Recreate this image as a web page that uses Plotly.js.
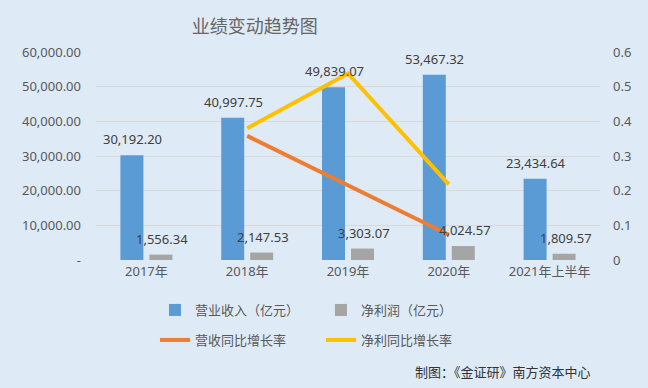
<!DOCTYPE html>
<html>
<head>
<meta charset="utf-8">
<script src="https://cdn.plot.ly/plotly-3.0.1.min.js"></script>
<style>html,body{margin:0;padding:0;background:#DEEAF6;}#chart{width:648px;height:388px;}</style>
</head>
<body>
<div id="chart"></div>
<script>
const categories = ['2017年', '2018年', '2019年', '2020年', '2021年上半年'];
const revenue = [30192.20, 40997.75, 49839.07, 53467.32, 23434.64];
const netProfit = [1556.34, 2147.53, 3303.07, 4024.57, 1809.57];
const growthCats = ['2018年', '2019年', '2020年'];
const revenueGrowth = [0.358, 0.2157, 0.0728];
const profitGrowth = [0.380, 0.538, 0.218];
const leftTickVals = [0, 10000, 20000, 30000, 40000, 50000, 60000];
const leftTickText = ['-', '10,000.00', '20,000.00', '30,000.00', '40,000.00', '50,000.00', '60,000.00'];
const rightTickVals = [0, 0.1, 0.2, 0.3, 0.4, 0.5, 0.6];
const rightTickText = ['0', '0.1', '0.2', '0.3', '0.4', '0.5', '0.6'];

const FONT = 'Noto Sans, Noto Sans CJK SC, sans-serif';
const fmt = v => v.toLocaleString('en-US', {minimumFractionDigits: 2, maximumFractionDigits: 2});

const traces = [
  {type: 'bar', name: '营业收入（亿元）', x: categories, y: revenue, marker: {color: '#5B9BD5'}, legend: 'legend', hoverinfo: 'none'},
  {type: 'bar', name: '净利润（亿元）', x: categories, y: netProfit, marker: {color: '#A5A5A5'}, legend: 'legend', hoverinfo: 'none'},
  {type: 'scatter', mode: 'lines', name: '营收同比增长率', x: growthCats, y: revenueGrowth, yaxis: 'y2', line: {color: '#ED7D31', width: 4}, legend: 'legend2', hoverinfo: 'none'},
  {type: 'scatter', mode: 'lines', name: '净利同比增长率', x: growthCats, y: profitGrowth, yaxis: 'y2', line: {color: '#FFC000', width: 4}, legend: 'legend2', hoverinfo: 'none'}
];

const annotations = [];
categories.forEach((c, i) => {
  annotations.push({x: c, y: revenue[i], xref: 'x', yref: 'y', text: fmt(revenue[i]), showarrow: false, xshift: -14, yshift: 16, yanchor: 'middle', font: {family: FONT, size: 13, color: '#404040'}});
  annotations.push({x: c, y: netProfit[i], xref: 'x', yref: 'y', text: fmt(netProfit[i]), showarrow: false, xshift: 16, yshift: 16, yanchor: 'middle', font: {family: FONT, size: 13, color: '#404040'}});
});
annotations.push({xref: 'paper', yref: 'paper', x: 0.986, y: -0.538, xanchor: 'right', yanchor: 'middle', text: '制图：《金证研》南方资本中心', showarrow: false, font: {family: FONT, size: 13, color: '#333333'}});

const layout = {
  width: 648, height: 388,
  margin: {l: 96, r: 48, t: 52, b: 128},
  paper_bgcolor: '#DEEAF6', plot_bgcolor: '#DEEAF6',
  font: {family: FONT, size: 13, color: '#595959'},
  title: {text: '业绩变动趋势图', x: 0.393, xref: 'container', xanchor: 'center', y: 0.930, yref: 'container', yanchor: 'middle', font: {family: FONT, size: 18, color: '#666666'}},
  barmode: 'group', bargap: 0.425, bargroupgap: 0.207,
  showlegend: true,
  xaxis: {type: 'category', showgrid: false, zeroline: false, showline: false, ticks: '', tickfont: {family: FONT, size: 13, color: '#595959'}, ticklabelstandoff: 2},
  yaxis: {range: [0, 60000], tickvals: leftTickVals, ticktext: leftTickText, showgrid: true, gridcolor: '#D9D9D9', gridwidth: 1, zeroline: false, showline: false, ticks: '', ticklabelstandoff: 14, tickfont: {family: FONT, size: 13, color: '#595959'}},
  yaxis2: {range: [0, 0.6], overlaying: 'y', side: 'right', tickvals: rightTickVals, ticktext: rightTickText, showgrid: false, zeroline: false, showline: false, ticks: '', ticklabelstandoff: 12, tickfont: {family: FONT, size: 13, color: '#595959'}},
  legend: {orientation: 'h', x: 0.117, xanchor: 'left', y: -0.2404, yanchor: 'middle', bgcolor: 'rgba(0,0,0,0)', entrywidth: 121, entrywidthmode: 'pixels', font: {family: FONT, size: 13, color: '#595959'}},
  legend2: {orientation: 'h', x: 0.117, xanchor: 'left', y: -0.3846, yanchor: 'middle', bgcolor: 'rgba(0,0,0,0)', entrywidth: 121, entrywidthmode: 'pixels', font: {family: FONT, size: 13, color: '#595959'}},
  annotations: annotations
};

Plotly.newPlot('chart', traces, layout, {displayModeBar: false, staticPlot: true});
</script>
</body>
</html>
